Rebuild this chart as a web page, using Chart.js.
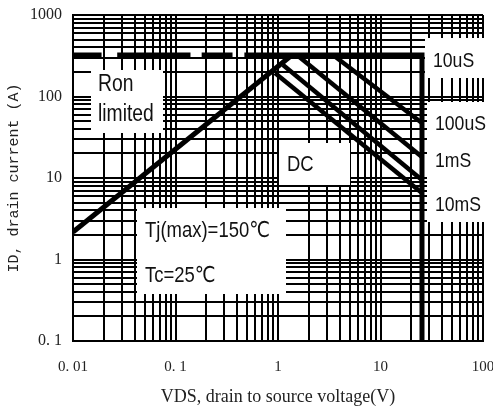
<!DOCTYPE html>
<html>
<head>
<meta charset="utf-8">
<script src="https://cdn.jsdelivr.net/npm/chart.js@4/dist/chart.umd.min.js"></script>
<style>
  html, body { margin: 0; padding: 0; background: #fff; }
  #wrap { width: 493px; height: 414px; }
</style>
</head>
<body>
<div id="wrap"><canvas id="soa" width="493" height="414"></canvas></div>
<script>
// tick labels (decades only)
const xTickValues = [0.01, 0.1, 1, 10, 100];
const xTickLabels = ['0. 01', '0. 1', '1', '10', '100'];
const yTickValues = [0.1, 1, 10, 100, 1000];
const yTickLabels = ['0. 1', '1', '10', '100', '1000'];

// current limit: dashed on the left, then solid up to the 25 V wall (10uS)
const limitV = [0.01, 0.019, 0.022, 0.027, 0.14, 0.16, 0.18, 0.36, 0.42, 0.47, 25.4, 25.4];
const limitI = [323, 323, null, 323, 323, null, 323, 323, null, 323, 323, 0.1];

// Ron limited line
const ronV = [0.01, 1.37];
const ronI = [2.17, 323];

// pulse lines
const us100V = [3.44, 25.4];
const us100I = [323, 47.3];
const ms1V = [1.53, 25.4];
const ms1I = [323, 18.1];
const ms10V = [1.12, 25.4];
const ms10I = [244, 9.45];
const dcV = [0.935, 25.4];
const dcI = [194, 6.55];

const pts = (xs, ys) => xs.map((x, i) => ({ x: x, y: ys[i] }));

const line = (label, xs, ys, w) => ({
  label: label,
  data: pts(xs, ys),
  borderColor: '#000',
  borderWidth: w,
  pointRadius: 0,
  tension: 0,
  spanGaps: false,
  borderJoinStyle: 'miter',
  fill: false
});

function logGrid(lo, hi) {
  const out = [];
  for (let e = Math.round(Math.log10(lo)); e < Math.round(Math.log10(hi)); e++) {
    for (let m = 1; m < 10; m++) out.push({ value: +(m * Math.pow(10, e)).toPrecision(3) });
  }
  out.push({ value: hi });
  return out;
}

function tickText(values, labels) {
  return (v) => {
    const i = values.findIndex(t => Math.abs(Math.log10(t) - Math.log10(v)) < 1e-6);
    return i >= 0 ? labels[i] : '';
  };
}

// white label boxes drawn over the grid
const notes = [
  { box: [91, 70, 72, 63], size: 23, text: [['Ron', 98, 85], ['limited', 98, 115]] },
  { box: [279, 143, 71, 42], size: 22, text: [['DC', 287, 165]] },
  { box: [137, 208, 149, 86], size: 22, text: [['Tj(max)=150\u2103', 145, 231], ['Tc=25\u2103', 145, 276]] },
  { box: [425, 38, 68, 40], size: 21, text: [['10uS', 433, 61]] },
  { box: [427, 102, 66, 120], size: 21, text: [['100uS', 435, 124], ['1mS', 435, 161], ['10mS', 435, 205]] }
];

const notePlugin = {
  id: 'notes',
  beforeDatasetsDraw(chart) {
    const ctx = chart.ctx;
    ctx.save();
    notes.forEach(n => {
      ctx.fillStyle = '#fff';
      ctx.fillRect(n.box[0], n.box[1], n.box[2], n.box[3]);
      ctx.fillStyle = '#111';
      ctx.font = n.size + 'px "Liberation Sans", Arial, "DejaVu Sans", sans-serif';
      ctx.textBaseline = 'middle';
      ctx.textAlign = 'left';
      n.text.forEach(t => {
        ctx.save();
        ctx.translate(t[1], t[2]);
        ctx.scale(0.84, 1);
        ctx.fillText(t[0], 0, 0);
        ctx.restore();
      });
    });
    ctx.restore();
  }
};

new Chart(document.getElementById('soa'), {
  type: 'line',
  data: {
    datasets: [
      line('10uS', limitV, limitI, 5),
      line('Ron limited', ronV, ronI, 5),
      line('100uS', us100V, us100I, 4.5),
      line('1mS', ms1V, ms1I, 4.5),
      line('10mS', ms10V, ms10I, 4.5),
      line('DC', dcV, dcI, 4.5)
    ]
  },
  options: {
    responsive: false,
    devicePixelRatio: 1,
    animation: false,
    layout: { autoPadding: false, padding: { top: 15, right: 10, left: 0, bottom: 0 } },
    plugins: { legend: { display: false }, tooltip: { enabled: false } },
    scales: {
      x: {
        type: 'logarithmic',
        min: 0.01,
        max: 100,
        afterFit: s => { s.height = 73; s.paddingLeft = 0; s.paddingRight = 0; },
        afterBuildTicks: s => { s.ticks = logGrid(0.01, 100); },
        grid: { color: '#000', lineWidth: 2, drawTicks: false },
        border: { color: '#000', width: 2 },
        ticks: {
          autoSkip: false, maxRotation: 0, padding: 17, color: '#222',
          font: { family: '"Liberation Serif", "DejaVu Serif", serif', size: 15 },
          callback: tickText(xTickValues, xTickLabels)
        },
        title: {
          display: true,
          text: 'VDS, drain to source voltage(V)',
          color: '#222',
          padding: { top: 0, bottom: 6 },
          font: { family: '"Liberation Serif", "DejaVu Serif", serif', size: 18 }
        }
      },
      y: {
        type: 'logarithmic',
        min: 0.1,
        max: 1000,
        afterFit: s => { s.width = 73; s.paddingTop = 0; s.paddingBottom = 0; },
        afterBuildTicks: s => { s.ticks = logGrid(0.1, 1000); },
        grid: { color: '#000', lineWidth: 2, drawTicks: false },
        border: { color: '#000', width: 2 },
        ticks: {
          autoSkip: false, padding: 11, color: '#222',
          font: { family: '"Liberation Serif", "DejaVu Serif", serif', size: 16 },
          callback: tickText(yTickValues, yTickLabels)
        },
        title: {
          display: true,
          text: 'ID, drain current (A)',
          color: '#222',
          padding: { top: 5, bottom: 0 },
          font: { family: '"Liberation Mono", "DejaVu Sans Mono", monospace', size: 15 }
        }
      }
    }
  },
  plugins: [notePlugin]
});
</script>
</body>
</html>
